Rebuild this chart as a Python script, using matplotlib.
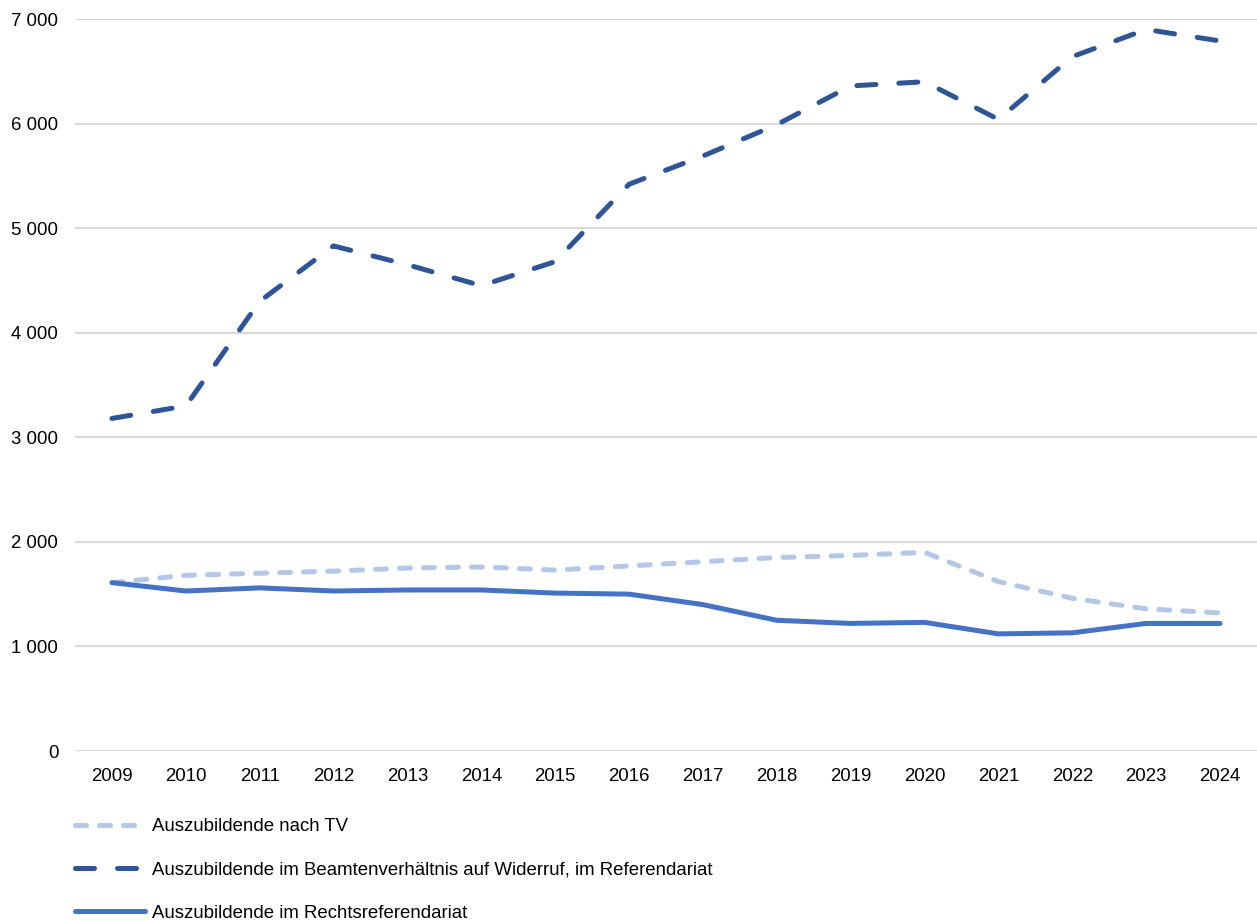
import matplotlib
matplotlib.use("Agg")
import matplotlib.pyplot as plt
from matplotlib.ticker import FuncFormatter

years = ["2009","2010","2011","2012","2013","2014","2015","2016","2017","2018","2019","2020","2021","2022","2023","2024"]
tv = [1610,1680,1700,1720,1750,1760,1730,1770,1810,1850,1870,1900,1620,1460,1360,1320]
beamte = [3180,3300,4300,4830,4650,4450,4680,5420,5690,5990,6360,6400,6040,6640,6900,6790]
rechts = [1610,1530,1560,1530,1540,1540,1510,1500,1400,1250,1220,1230,1120,1130,1220,1220]
labels = ["Auszubildende nach TV",
          "Auszubildende im Beamtenverhältnis auf Widerruf, im Referendariat",
          "Auszubildende im Rechtsreferendariat"]

plt.rcParams['font.family'] = ['Liberation Sans', 'DejaVu Sans']
fig = plt.figure(figsize=(12.57, 9.21), dpi=100)
ax = fig.add_axes([75/1257, 1-751/921, 1-75/1257, (751-19)/921])

x = list(range(len(years)))
lw = 3.6
l1, = ax.plot(x, tv, color='#B4C7E7', lw=lw, dashes=(2.2, 2.6), dash_capstyle='round', solid_capstyle='round', label=labels[0], zorder=3)
l2, = ax.plot(x, beamte, color='#2F5597', lw=lw, dashes=(3.8, 4.6), dash_capstyle='round', solid_capstyle='round', label=labels[1], zorder=3)
l3, = ax.plot(x, rechts, color='#4472C4', lw=lw, solid_capstyle='round', label=labels[2], zorder=4)

ax.set_xlim(-0.5, len(years)-0.5)
ax.set_ylim(0, 7000)
ax.set_yticks(range(0, 7001, 1000))
ax.yaxis.set_major_formatter(FuncFormatter(lambda v, p: f"{int(v):,}".replace(",", " ")))
ax.set_xticks(x)
ax.set_xticklabels(years)
ax.grid(axis='y', color='#D9D9D9', lw=1.5)
ax.set_axisbelow(True)
for s in ax.spines.values():
    s.set_visible(False)
ax.tick_params(axis='both', length=0, labelsize=13.4, colors='black')
ax.tick_params(axis='y', pad=12)
ax.tick_params(axis='x', pad=12)

fig.legend(handles=[l1, l2, l3], labels=labels, loc='upper left',
           bbox_to_anchor=(68/1257, 1-811/921), frameon=False, fontsize=13.4,
           handlelength=3.76, handletextpad=0.38, labelspacing=1.4, borderaxespad=0)

fig.savefig("out.png", dpi=100)
